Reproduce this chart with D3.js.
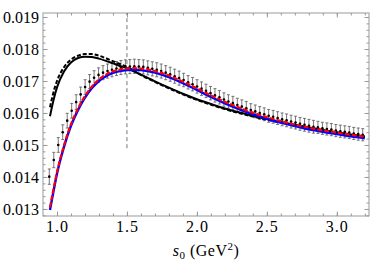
<!DOCTYPE html>
<html>
<head>
<meta charset="utf-8">
<script src="https://cdn.jsdelivr.net/npm/d3@7"></script>
<style>
  body { margin: 0; background: #fff; }
  svg { display: block; }
  .tick text { font-family: "Liberation Serif", serif; font-size: 16px; fill: #000; }
  .xax .tick text { letter-spacing: 1px; }
</style>
</head>
<body>
<div id="chart"></div>
<script>
// curve grid (s0 in GeV^2)
const curveX = [0.95, 0.975, 1.0, 1.05, 1.1, 1.15, 1.2, 1.25, 1.3, 1.35, 1.4, 1.45, 1.5, 1.55, 1.6,
  1.7, 1.8, 1.9, 2.0, 2.1, 2.2, 2.3, 2.4, 2.5, 2.6, 2.7, 2.8, 2.9, 3.0, 3.1, 3.2];
const blackSolid = [0.01590, 0.01640, 0.01680, 0.01730, 0.01758, 0.01772, 0.01776, 0.01775, 0.01770, 0.01763,
  0.01755, 0.01747, 0.01740, 0.01730, 0.01720, 0.01699, 0.01679, 0.01660, 0.01643, 0.01628, 0.01614,
  0.01602, 0.01591, 0.01581, 0.01572, 0.01563, 0.01555, 0.01547, 0.01540, 0.01533, 0.01527];
const blackDashed = [0.01618, 0.01665, 0.01700, 0.01743, 0.01767, 0.01779, 0.01784, 0.01784, 0.01779, 0.01771,
  0.01762, 0.01753, 0.01744, 0.01732, 0.01719, 0.01697, 0.01677, 0.01658, 0.01641, 0.01626, 0.01612,
  0.01600, 0.01589, 0.01579, 0.01570, 0.01561, 0.01553, 0.01545, 0.01538, 0.01531, 0.01525];
const blueSolid = [0.01297, 0.01355, 0.01410, 0.01494, 0.01560, 0.01609, 0.01648, 0.01678, 0.01700, 0.01715,
  0.01725, 0.01731, 0.01734, 0.01735, 0.01734, 0.01726, 0.01712, 0.01693, 0.01672, 0.01650, 0.01630,
  0.01612, 0.01596, 0.01582, 0.01570, 0.01559, 0.01549, 0.01541, 0.01534, 0.01527, 0.01521];
const redDashed = [0.01305, 0.01362, 0.01415, 0.01499, 0.01565, 0.01614, 0.01653, 0.01683, 0.01705, 0.01720,
  0.01730, 0.01736, 0.01739, 0.01740, 0.01739, 0.01731, 0.01717, 0.01698, 0.01677, 0.01655, 0.01635,
  0.01617, 0.01601, 0.01587, 0.01575, 0.01564, 0.01554, 0.01546, 0.01539, 0.01532, 0.01526];

// data points with error bars
const pointX = [0.945, 0.977, 1.009, 1.041, 1.073, 1.105, 1.137, 1.169, 1.201, 1.233, 1.265, 1.297, 1.329,
  1.361, 1.393, 1.425, 1.457, 1.489, 1.521, 1.553, 1.585, 1.617, 1.649, 1.681, 1.713, 1.745, 1.777, 1.809,
  1.841, 1.873, 1.905, 1.937, 1.969, 2.001, 2.033, 2.065, 2.097, 2.129, 2.161, 2.193, 2.225, 2.257, 2.289,
  2.321, 2.353, 2.385, 2.417, 2.449, 2.481, 2.513, 2.545, 2.577, 2.609, 2.641, 2.673, 2.705, 2.737, 2.769,
  2.801, 2.833, 2.865, 2.897, 2.929, 2.961, 2.993, 3.025, 3.057, 3.089, 3.121, 3.153, 3.185];
const pointY = [0.01401, 0.01453, 0.01500, 0.01540, 0.01576, 0.01607, 0.01634, 0.01658, 0.01681, 0.01698,
  0.01710, 0.01719, 0.01726, 0.01731, 0.01735, 0.01739, 0.01742, 0.01744, 0.01745, 0.01746, 0.01745,
  0.01744, 0.01741, 0.01738, 0.01735, 0.01731, 0.01726, 0.01721, 0.01715, 0.01709, 0.01703, 0.01696,
  0.01690, 0.01683, 0.01676, 0.01669, 0.01662, 0.01655, 0.01649, 0.01642, 0.01636, 0.01631, 0.01625,
  0.01620, 0.01615, 0.01609, 0.01605, 0.01600, 0.01596, 0.01591, 0.01588, 0.01584, 0.01580, 0.01577,
  0.01573, 0.01570, 0.01566, 0.01563, 0.01560, 0.01557, 0.01555, 0.01552, 0.01550, 0.01548, 0.01545,
  0.01543, 0.01541, 0.01539, 0.01536, 0.01534, 0.01532];
const pointErr = [0.00024, 0.00024, 0.00023, 0.00023, 0.00023, 0.00023, 0.00023, 0.00023, 0.00023, 0.00022,
  0.00022, 0.00022, 0.00022, 0.00022, 0.00022, 0.00022, 0.00022, 0.00022, 0.00022, 0.00022, 0.00022,
  0.00022, 0.00022, 0.00022, 0.00022, 0.00022, 0.00022, 0.00022, 0.00022, 0.00022, 0.00021, 0.00021,
  0.00021, 0.00021, 0.00021, 0.00021, 0.00021, 0.00021, 0.00021, 0.00021, 0.00021, 0.00021, 0.00021,
  0.00021, 0.00021, 0.00020, 0.00020, 0.00020, 0.00020, 0.00020, 0.00020, 0.00020, 0.00020, 0.00020,
  0.00020, 0.00020, 0.00020, 0.00020, 0.00020, 0.00020, 0.00019, 0.00019, 0.00019, 0.00019, 0.00019,
  0.00019, 0.00019, 0.00019, 0.00019, 0.00019, 0.00019];

const xTicks = [1.0, 1.5, 2.0, 2.5, 3.0];
const yTicks = [0.013, 0.014, 0.015, 0.016, 0.017, 0.018, 0.019];
const markerX = 1.5;           // vertical dashed line
const markerRange = [0.0149, 0.019125];

const W = 374, H = 260;
const mLeft = 43, mRight = 369, mTop = 13, mBottom = 216;

const svg = d3.select("#chart").append("svg")
    .attr("width", W)
    .attr("height", H);

const x = d3.scaleLinear().domain([0.9, 3.23]).range([mLeft, mRight]);
const y = d3.scaleLinear().domain([0.01278, 0.019125]).range([mBottom, mTop]);

const frameColor = "#999";

// minor ticks: every 0.1 on x, every 0.0002 on y
const xMinor = d3.range(0.9, 3.25, 0.1).filter(v => v > 0.91 && v < 3.22);
const yMinor = d3.range(0.0128, 0.0191, 0.0002);

function styleAxis(g) {
  g.select(".domain").remove();
  g.selectAll(".tick line").attr("stroke", frameColor);
}

// bottom
svg.append("g").attr("transform", `translate(0,${mBottom})`)
    .call(d3.axisBottom(x).tickValues(xMinor).tickSize(-2.5).tickFormat(""))
    .call(styleAxis);
svg.append("g").attr("class", "xax").attr("transform", `translate(0,${mBottom})`)
    .call(d3.axisBottom(x).tickValues(xTicks).tickSize(-4.5).tickPadding(5).tickFormat(d3.format(".1f")))
    .call(styleAxis);
// top
svg.append("g").attr("transform", `translate(0,${mTop})`)
    .call(d3.axisTop(x).tickValues(xMinor).tickSize(-2.5).tickFormat(""))
    .call(styleAxis);
svg.append("g").attr("transform", `translate(0,${mTop})`)
    .call(d3.axisTop(x).tickValues(xTicks).tickSize(-4.5).tickFormat(""))
    .call(styleAxis);
// left
svg.append("g").attr("transform", `translate(${mLeft},0)`)
    .call(d3.axisLeft(y).tickValues(yMinor).tickSize(-2.5).tickFormat(""))
    .call(styleAxis);
svg.append("g").attr("transform", `translate(${mLeft},0)`)
    .call(d3.axisLeft(y).tickValues(yTicks).tickSize(-4.5).tickPadding(4).tickFormat(d3.format(".3f")))
    .call(styleAxis);
// right
svg.append("g").attr("transform", `translate(${mRight},0)`)
    .call(d3.axisRight(y).tickValues(yMinor).tickSize(-2.5).tickFormat(""))
    .call(styleAxis);
svg.append("g").attr("transform", `translate(${mRight},0)`)
    .call(d3.axisRight(y).tickValues(yTicks).tickSize(-4.5).tickFormat(""))
    .call(styleAxis);

// frame
svg.append("rect")
    .attr("x", mLeft).attr("y", mTop)
    .attr("width", mRight - mLeft).attr("height", mBottom - mTop)
    .attr("fill", "none").attr("stroke", frameColor).attr("stroke-width", 1);

// vertical marker
svg.append("line")
    .attr("x1", x(markerX)).attr("x2", x(markerX))
    .attr("y1", y(markerRange[0])).attr("y2", y(markerRange[1]))
    .attr("stroke", "#777").attr("stroke-width", 1).attr("stroke-dasharray", "4,3");

const line = d3.line()
    .x(d => x(d[0]))
    .y(d => y(d[1]))
    .curve(d3.curveMonotoneX);

function series(vals) { return curveX.map((v, i) => [v, vals[i]]); }

// error bars
const pts = pointX.map((v, i) => ({ x: v, y: pointY[i], e: pointErr[i] }));
const eb = svg.append("g").attr("stroke", "#555").attr("stroke-width", 0.8);
eb.selectAll(".bar").data(pts).join("line")
    .attr("x1", d => x(d.x)).attr("x2", d => x(d.x))
    .attr("y1", d => y(d.y - d.e)).attr("y2", d => y(d.y + d.e));
eb.selectAll(".capt").data(pts).join("line")
    .attr("x1", d => x(d.x) - 1.5).attr("x2", d => x(d.x) + 1.5)
    .attr("y1", d => y(d.y + d.e)).attr("y2", d => y(d.y + d.e));
eb.selectAll(".capb").data(pts).join("line")
    .attr("x1", d => x(d.x) - 1.5).attr("x2", d => x(d.x) + 1.5)
    .attr("y1", d => y(d.y - d.e)).attr("y2", d => y(d.y - d.e));
svg.append("g").selectAll("circle").data(pts).join("circle")
    .attr("cx", d => x(d.x)).attr("cy", d => y(d.y)).attr("r", 1.3).attr("fill", "#000");

// curves
svg.append("path").datum(series(blackSolid))
    .attr("d", line).attr("fill", "none").attr("stroke", "#000").attr("stroke-width", 2);
svg.append("path").datum(series(blackDashed))
    .attr("d", line).attr("fill", "none").attr("stroke", "#000").attr("stroke-width", 2)
    .attr("stroke-dasharray", "4,2");
svg.append("path").datum(series(blueSolid))
    .attr("d", line).attr("fill", "none").attr("stroke", "#0000ff").attr("stroke-width", 2.4);
svg.append("path").datum(series(redDashed))
    .attr("d", line).attr("fill", "none").attr("stroke", "#ff0000").attr("stroke-width", 2.2)
    .attr("stroke-dasharray", "5,2");

// x axis title
const title = svg.append("text")
    .attr("x", (mLeft + mRight) / 2).attr("y", 256)
    .attr("text-anchor", "middle")
    .style("font-family", "'Liberation Serif', serif")
    .style("font-size", "16px")
    .style("letter-spacing", "0.5px");
title.append("tspan").style("font-style", "italic").text("s");
title.append("tspan").attr("dy", 3).style("font-size", "11px").text("0");
title.append("tspan").attr("dy", -3).text(" (GeV");
title.append("tspan").attr("dy", -6).style("font-size", "11px").text("2");
title.append("tspan").attr("dy", 6).text(")");
</script>
</body>
</html>
